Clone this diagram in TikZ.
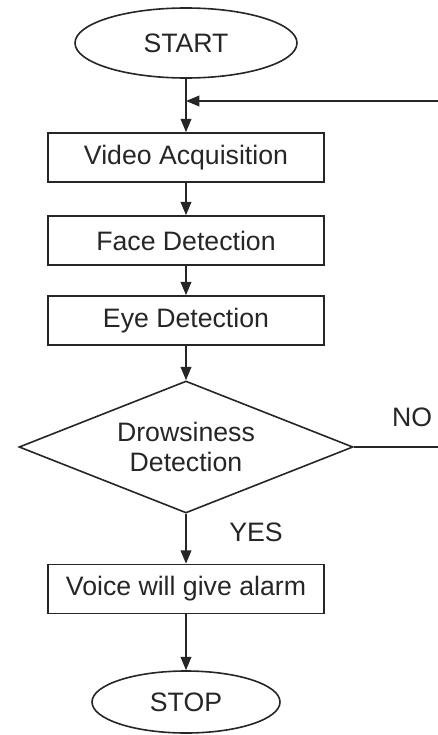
\documentclass[tikz,border=0pt]{standalone}
\usepackage{fontspec}
\setmainfont{Liberation Sans}
\usetikzlibrary{shapes.geometric, arrows.meta}

\begin{document}
\begin{tikzpicture}[x = 0.75pt, y = -0.75pt,
	every node/.style = {font = \fontsize{20}{21}\selectfont, text = black!85},
	line/.style = {line width = 1.2pt, draw = black!85},
	arr/.style = {line, -{Triangle[length = 10pt, width = 8pt]}},
	proc/.style = {line, minimum width = 207pt, minimum height = 36.75pt, inner sep = 0pt},
	term/.style = {line, ellipse, inner sep = 0pt},
	decide/.style = {line, diamond, aspect = 2.53, minimum width = 250.5pt, minimum height = 99pt, inner sep = 0pt, align = center}]
	\useasboundingbox (0, 0) rectangle (437, 735);
	\node[term, minimum width = 166.5pt, minimum height = 52.5pt] (start) at (186, 43) {START};
	\node[proc] (video) at (186, 157.5) {Video Acquisition};
	\node[proc] (face) at (186, 240.5) {Face Detection};
	\node[proc] (eye) at (186, 320.5) {Eye Detection};
	\node[decide] (drowsy) at (186, 447) {Drowsiness\\[2pt]Detection};
	\node[proc] (voice) at (186, 589) {Voice will give alarm};
	\node[term, minimum width = 141pt, minimum height = 46.5pt] (stop) at (186, 702) {STOP};
	\node (no) at (412, 417) {NO};
	\node (yes) at (256, 532) {YES};
	\foreach \a/\b in {start/video, video/face, face/eye, eye/drowsy, drowsy/voice, voice/stop}{
		\draw[arr] (\a) -- (\b);}
	% loop back for NO
	\coordinate (loopbot) at (438.5, 447);
	\coordinate (looptop) at (438.5, 101);
	\coordinate (join) at (186, 101);
	\draw[arr] (drowsy.east) -- (loopbot) -- (looptop) -- (join);
\end{tikzpicture}
\end{document}
